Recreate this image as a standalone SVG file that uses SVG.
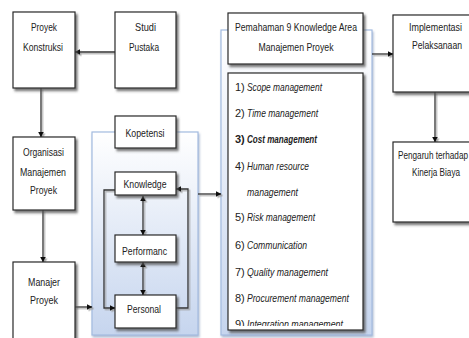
<svg xmlns="http://www.w3.org/2000/svg" width="469" height="338" viewBox="0 0 469 338">
<style>
.box{fill:#fff;stroke:#2a2a2a;stroke-width:1.2;filter:url(#sh)}
.panel{fill:url(#pg);stroke:#a3bbe0;stroke-width:1.2;filter:url(#psh)}
text{font-family:"Liberation Sans",Arial,sans-serif;font-size:11px;fill:#222;text-anchor:middle}
.li{text-anchor:start;font-style:italic}
.num{text-anchor:start}
.b{font-weight:bold}
.con{fill:none;stroke:#333;stroke-width:1.3;filter:url(#lsh)}
</style>
<defs>
<linearGradient id="pg" x1="0" y1="0" x2="0" y2="1">
<stop offset="0" stop-color="#ffffff"/>
<stop offset="1" stop-color="#c6d5ee"/>
</linearGradient>
<filter id="sh" x="-10%" y="-10%" width="130%" height="130%">
<feDropShadow dx="2" dy="2.5" stdDeviation="0.8" flood-color="#555" flood-opacity="0.8"/>
</filter>
<filter id="psh" x="-10%" y="-10%" width="130%" height="130%">
<feDropShadow dx="1" dy="2" stdDeviation="1" flood-color="#8da0c0" flood-opacity="0.7"/>
</filter>
<filter id="lsh" filterUnits="userSpaceOnUse" x="0" y="0" width="469" height="338">
<feDropShadow dx="1.5" dy="1.5" stdDeviation="0.4" flood-color="#999" flood-opacity="0.8"/>
</filter>
<marker id="ah" viewBox="0 0 10 10" refX="9" refY="5" markerWidth="6" markerHeight="6" orient="auto-start-reverse" markerUnits="userSpaceOnUse">
<path d="M0,0 L10,5 L0,10 z" fill="#111"/>
</marker>
<clipPath id="lc"><rect x="228" y="74" width="135" height="252"/></clipPath>
</defs>

<g id="panel-kopetensi"><rect class="panel" x="92" y="132" width="106" height="203"/></g>
<g id="panel-knowledge-area"><rect class="panel" x="221" y="30" width="151" height="305"/></g>

<g id="connectors">
<path class="con" d="M115,52 H75" marker-end="url(#ah)"/>
<path class="con" d="M41,88 V137" marker-end="url(#ah)"/>
<path class="con" d="M43,210 V262" marker-end="url(#ah)"/>
<path class="con" d="M75,307 H92" marker-end="url(#ah)"/>
<path class="con" d="M143,196 V235" marker-start="url(#ah)" marker-end="url(#ah)"/>
<path class="con" d="M143,262 V295" marker-start="url(#ah)" marker-end="url(#ah)"/>
<path class="con" d="M115,190 H104 V308 H115" marker-end="url(#ah)"/>
<path class="con" d="M176,308 H188 V189 H176" marker-end="url(#ah)"/>
<path class="con" d="M198,194 H221" marker-end="url(#ah)"/>
<path class="con" d="M372,54 H393" marker-end="url(#ah)"/>
<path class="con" d="M435,92 V142" marker-end="url(#ah)"/>
</g>

<g id="proyek-konstruksi"><rect class="box" x="13" y="12" width="62" height="76"/>
<text x="44" y="31" textLength="26" lengthAdjust="spacingAndGlyphs">Proyek</text>
<text x="43" y="51" textLength="40" lengthAdjust="spacingAndGlyphs">Konstruksi</text></g>

<g id="studi-pustaka"><rect class="box" x="115" y="12" width="61" height="76"/>
<text x="145.5" y="31" textLength="21" lengthAdjust="spacingAndGlyphs">Studi</text>
<text x="144" y="51" textLength="30" lengthAdjust="spacingAndGlyphs">Pustaka</text></g>

<g id="organisasi"><rect class="box" x="13" y="137" width="62" height="73"/>
<text x="43.5" y="156" textLength="41" lengthAdjust="spacingAndGlyphs">Organisasi</text>
<text x="43" y="176" textLength="46" lengthAdjust="spacingAndGlyphs">Manajemen</text>
<text x="43.5" y="194" textLength="27" lengthAdjust="spacingAndGlyphs">Proyek</text></g>

<g id="manajer-proyek"><rect class="box" x="13" y="262" width="62" height="90"/>
<text x="44" y="286" textLength="32" lengthAdjust="spacingAndGlyphs">Manajer</text>
<text x="44" y="304" textLength="28" lengthAdjust="spacingAndGlyphs">Proyek</text></g>

<g id="kopetensi"><rect class="box" x="115" y="116" width="61" height="32"/>
<text x="145" y="137" textLength="39" lengthAdjust="spacingAndGlyphs">Kopetensi</text></g>

<g id="knowledge"><rect class="box" x="115" y="172" width="61" height="23"/>
<text x="145" y="188" textLength="43" lengthAdjust="spacingAndGlyphs">Knowledge</text></g>

<g id="performanc"><rect class="box" x="115" y="235" width="61" height="27"/>
<text x="144.5" y="255" textLength="45" lengthAdjust="spacingAndGlyphs">Performanc</text></g>

<g id="personal"><rect class="box" x="115" y="295" width="61" height="33"/>
<text x="144" y="313" textLength="34" lengthAdjust="spacingAndGlyphs">Personal</text></g>

<g id="pemahaman"><rect class="box" x="228" y="13" width="135" height="51"/>
<text x="296" y="31" textLength="122" lengthAdjust="spacingAndGlyphs">Pemahaman 9 Knowledge Area</text>
<text x="296" y="51" textLength="75" lengthAdjust="spacingAndGlyphs">Manajemen Proyek</text></g>

<g id="knowledge-area-list"><rect class="box" x="228" y="73" width="135" height="257"/>
<g clip-path="url(#lc)">
<text class="num" x="235" y="91">1)</text><text class="li" x="247" y="91" textLength="75" lengthAdjust="spacingAndGlyphs">Scope management</text>
<text class="num" x="235" y="117">2)</text><text class="li" x="247" y="117" textLength="71" lengthAdjust="spacingAndGlyphs">Time management</text>
<text class="num b" x="235" y="143">3)</text><text class="li b" x="247" y="143" textLength="70" lengthAdjust="spacingAndGlyphs">Cost management</text>
<text class="num" x="235" y="170">4)</text><text class="li" x="247" y="170" textLength="62" lengthAdjust="spacingAndGlyphs">Human resource</text>
<text class="li" x="247" y="196" textLength="51" lengthAdjust="spacingAndGlyphs">management</text>
<text class="num" x="235" y="221">5)</text><text class="li" x="247" y="221" textLength="68" lengthAdjust="spacingAndGlyphs">Risk management</text>
<text class="num" x="235" y="249">6)</text><text class="li" x="247" y="249" textLength="60" lengthAdjust="spacingAndGlyphs">Communication</text>
<text class="num" x="235" y="276">7)</text><text class="li" x="247" y="276" textLength="81" lengthAdjust="spacingAndGlyphs">Quality management</text>
<text class="num" x="235" y="302">8)</text><text class="li" x="247" y="302" textLength="102" lengthAdjust="spacingAndGlyphs">Procurement management</text>
<text class="num" x="235" y="328">9)</text><text class="li" x="247" y="328" textLength="96" lengthAdjust="spacingAndGlyphs">Integration management</text>
</g></g>

<g id="implementasi"><rect class="box" x="393" y="15" width="85" height="77"/>
<text x="435.5" y="31" textLength="53" lengthAdjust="spacingAndGlyphs">Implementasi</text>
<text x="437" y="49" textLength="50" lengthAdjust="spacingAndGlyphs">Pelaksanaan</text></g>

<g id="pengaruh"><rect class="box" x="393" y="142" width="85" height="80"/>
<text x="398" y="159" style="text-anchor:start" textLength="70" lengthAdjust="spacingAndGlyphs">Pengaruh terhadap</text>
<text x="436" y="176" textLength="48" lengthAdjust="spacingAndGlyphs">Kinerja Biaya</text></g>
</svg>
